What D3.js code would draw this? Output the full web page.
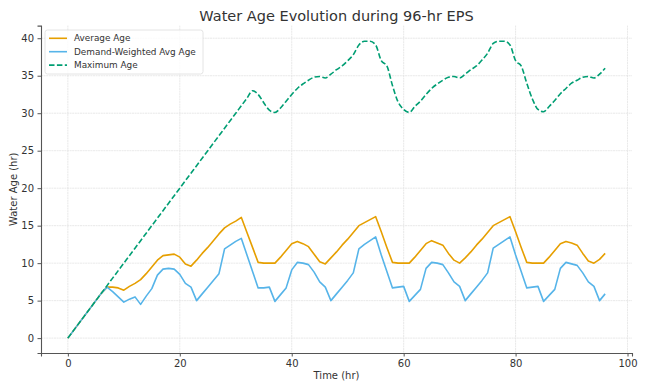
<!DOCTYPE html>
<html>
<head>
<meta charset="utf-8">
<script src="https://cdn.jsdelivr.net/npm/d3@7"></script>
<style>
  body { margin: 0; background: #fff; }
  text { font-family: "DejaVu Sans", sans-serif; }
</style>
</head>
<body>
<div id="chart"></div>
<script>
// hours 0..96
var hours = d3.range(0, 97);

var avgAge = [0, 1, 2, 3, 4, 5, 6, 6.8, 6.8, 6.7, 6.4, 6.9, 7.3, 7.8, 8.6, 9.5, 10.4, 11.0, 11.1, 11.2,
  10.8, 9.9, 9.6, 10.4, 11.3, 12.1, 13.0, 13.9, 14.7, 15.2, 15.6, 16.1, 14.1, 12.1, 10.1, 10.0, 10.0, 10.0, 10.8, 11.7,
  12.6, 12.9, 12.6, 12.2, 11.2, 10.2, 9.9, 10.7, 11.5, 12.4, 13.2, 14.1, 15.0, 15.4, 15.8, 16.2, 14.2, 12.1, 10.1, 10.0,
  10.0, 10.0, 10.8, 11.7, 12.6, 13.0, 12.7, 12.4, 11.3, 10.4, 10.0, 10.7, 11.5, 12.4, 13.2, 14.1, 15.0, 15.4, 15.8, 16.2,
  14.2, 12.1, 10.1, 10.0, 10.0, 10.0, 10.8, 11.7, 12.6, 12.9, 12.7, 12.4, 11.3, 10.3, 10.0, 10.5, 11.3];

var dwAge = [0, 1, 2, 3, 4, 5, 6, 6.8, 6.2, 5.5, 4.8, 5.2, 5.5, 4.5, 5.6, 6.6, 8.4, 9.2, 9.3, 9.2,
  8.5, 7.3, 6.8, 5.0, 5.9, 6.8, 7.7, 8.6, 11.9, 12.4, 12.9, 13.3, 11.1, 8.9, 6.7, 6.7, 6.8, 4.9, 5.8, 6.7,
  9.1, 10.1, 10.0, 9.8, 8.8, 7.5, 6.8, 5.0, 5.9, 6.8, 7.7, 8.7, 11.9, 12.5, 13.0, 13.5, 11.1, 8.9, 6.7, 6.8,
  6.9, 4.9, 5.7, 6.5, 9.3, 10.1, 10.0, 9.8, 8.7, 7.5, 6.9, 5.0, 5.9, 6.8, 7.7, 8.7, 12.0, 12.5, 13.0, 13.5,
  11.1, 8.9, 6.7, 6.8, 6.9, 4.9, 5.7, 6.5, 9.3, 10.1, 9.9, 9.7, 8.7, 7.5, 6.9, 5.0, 5.9];

var maxAge = [0, 1, 2, 3, 4, 5, 6, 7, 8, 9, 10, 11, 12, 13, 14, 15, 16, 17, 18, 19,
  20, 21, 22, 23, 24, 25, 26, 27, 28, 29, 30, 31, 32, 33, 32.5, 31.4, 30.4, 30.1, 30.7, 31.6,
  32.5, 33.3, 33.9, 34.4, 34.8, 34.9, 34.7, 35.2, 35.8, 36.3, 37.0, 37.8, 39.1, 39.6, 39.6, 39.1, 37.0, 36.3, 33.7, 31.5,
  30.5, 30.1, 30.9, 31.6, 32.5, 33.3, 33.9, 34.4, 34.8, 34.9, 34.7, 35.2, 35.8, 36.3, 37.1, 38.0, 39.3, 39.6, 39.6, 39.1,
  37.0, 36.3, 34.0, 31.9, 30.5, 30.2, 30.9, 31.7, 32.6, 33.3, 34.0, 34.4, 34.8, 34.9, 34.7, 35.2, 36.0];

var seriesNames = ["Average Age", "Demand-Weighted Avg Age", "Maximum Age"];
var seriesColors = ["#E69F00", "#56B4E9", "#009E73"];
var xTicks = [0, 20, 40, 60, 80, 100];
var yTicks = [0, 5, 10, 15, 20, 25, 30, 35, 40];

var W = 649, H = 391;
var margin = {top: 25.6, right: 17, bottom: 38, left: 41};
var width = W - margin.left - margin.right,
    height = H - margin.top - margin.bottom;

var svg = d3.select("#chart").append("svg")
    .attr("width", W)
    .attr("height", H);

var g = svg.append("g")
    .attr("transform", "translate(" + margin.left + "," + margin.top + ")");

var x = d3.scaleLinear().domain([-4.8, 100.8]).range([0, width]);
var y = d3.scaleLinear().domain([-1.985, 41.685]).range([height, 0]);

// grid
g.append("g").selectAll("line").data(xTicks).enter().append("line")
    .attr("x1", d => x(d)).attr("x2", d => x(d))
    .attr("y1", 0).attr("y2", height)
    .attr("stroke", "#e3e3e3").attr("stroke-width", 0.8)
    .attr("stroke-dasharray", "2,0.6");
g.append("g").selectAll("line").data(yTicks).enter().append("line")
    .attr("x1", 0).attr("x2", width)
    .attr("y1", d => y(d)).attr("y2", d => y(d))
    .attr("stroke", "#e3e3e3").attr("stroke-width", 0.8)
    .attr("stroke-dasharray", "2,0.6");

// axes
var xAxis = g.append("g")
    .attr("transform", "translate(0," + height + ")")
    .call(d3.axisBottom(x).tickValues(xTicks).tickSize(3.5).tickPadding(3.5));
var yAxis = g.append("g")
    .call(d3.axisLeft(y).tickValues(yTicks).tickSize(3.5).tickPadding(3.5));
[xAxis, yAxis].forEach(function(a) {
  a.select(".domain").attr("stroke", "#555").attr("stroke-width", 1.1);
  a.selectAll(".tick line").attr("stroke", "#555");
  a.selectAll(".tick text").attr("fill", "#333").style("font-size", "10px")
    .style("font-family", "DejaVu Sans");
});

// lines
var lineData = [avgAge, dwAge, maxAge];
lineData.forEach(function(vals, i) {
  var line = d3.line()
    .x((d, j) => x(hours[j]))
    .y(d => y(d));
  if (i == 2) line.curve(d3.curveMonotoneX);
  g.append("path")
    .datum(vals)
    .attr("fill", "none")
    .attr("stroke", seriesColors[i])
    .attr("stroke-width", 1.6)
    .attr("stroke-linejoin", "round")
    .attr("stroke-dasharray", i == 2 ? "5.5,2.4" : null)
    .attr("d", line);
});

// title and labels
svg.append("text")
    .attr("x", margin.left + width / 2).attr("y", 21)
    .attr("text-anchor", "middle")
    .attr("fill", "#333")
    .style("font-size", "14.5px")
    .text("Water Age Evolution during 96-hr EPS");
svg.append("text")
    .attr("x", margin.left + width / 2).attr("y", 379)
    .attr("text-anchor", "middle")
    .attr("fill", "#333")
    .style("font-size", "10px")
    .text("Time (hr)");
svg.append("text")
    .attr("transform", "translate(17," + (margin.top + height / 2) + ") rotate(-90)")
    .attr("text-anchor", "middle")
    .attr("fill", "#333")
    .style("font-size", "10px")
    .text("Water Age (hr)");

// legend
var legend = svg.append("g").attr("transform", "translate(45,30)");
legend.append("rect")
    .attr("width", 158).attr("height", 44)
    .attr("rx", 2.5)
    .attr("fill", "#fff").attr("fill-opacity", 0.8)
    .attr("stroke", "#ddd").attr("stroke-width", 0.8);
seriesNames.forEach(function(name, i) {
  var yy = 8.3 + i * 13.4;
  legend.append("line")
    .attr("x1", 4).attr("x2", 22)
    .attr("y1", yy).attr("y2", yy)
    .attr("stroke", seriesColors[i]).attr("stroke-width", 1.6)
    .attr("stroke-dasharray", i == 2 ? "5.5,2.4" : null);
  legend.append("text")
    .attr("x", 29).attr("y", yy + 3)
    .attr("fill", "#333")
    .style("font-size", "8.9px")
    .text(name);
});
</script>
</body>
</html>
